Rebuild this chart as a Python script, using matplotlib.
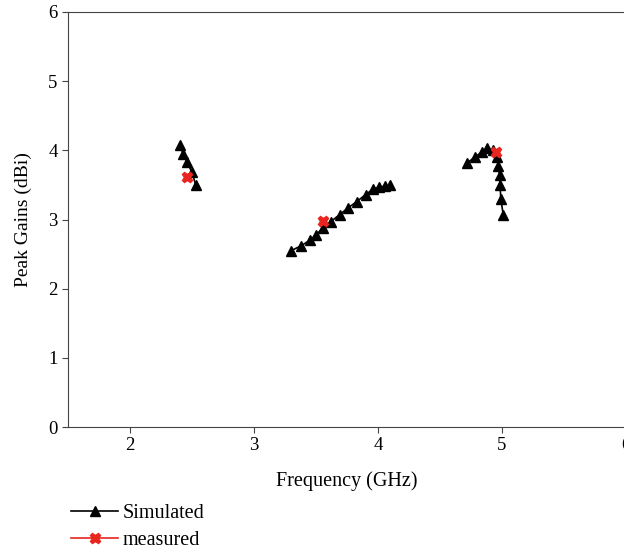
import numpy as np
import matplotlib
matplotlib.use('Agg')
import matplotlib.pyplot as plt
from matplotlib.lines import Line2D

plt.rcParams['font.family'] = ['Liberation Serif', 'DejaVu Serif']

# simulated peak gain, three bands (nan breaks the line between bands)
sim_freq = [2.40, 2.43, 2.46, 2.50, 2.53, np.nan,
            3.30, 3.38, 3.45, 3.50, 3.56, 3.62, 3.69, 3.76, 3.83, 3.90, 3.96, 4.01, 4.06, 4.10, np.nan,
            4.72, 4.78, 4.84, 4.88, 4.93, 4.96, 4.97, 4.98, 4.985, 4.99, 5.01]
sim_gain = [4.07, 3.95, 3.83, 3.68, 3.50, np.nan,
            2.55, 2.62, 2.70, 2.78, 2.88, 2.97, 3.07, 3.17, 3.26, 3.36, 3.44, 3.47, 3.48, 3.50, np.nan,
            3.82, 3.90, 3.98, 4.03, 4.00, 3.90, 3.78, 3.65, 3.50, 3.30, 3.07]

meas_freq = [2.46, 3.56, 4.95]
meas_gain = [3.61, 2.98, 3.97]

fig = plt.figure(figsize=(6.24, 5.52), dpi=100)
# right edge of the axes sits just past the picture, as in the reference
ax = fig.add_axes([68/624, 125/552, 558/624, 415/552])

ax.plot(sim_freq, sim_gain, color='black', marker='^', markersize=7, linewidth=1.2, label='Simulated')
ax.plot(meas_freq, meas_gain, color='#e8251f', marker='X', markersize=7.5, linestyle='none', label='measured')

ax.set_xlim(1.5, 6.0)
ax.set_ylim(0, 6)
ax.set_xticks([2, 3, 4, 5, 6])
ax.set_yticks([0, 1, 2, 3, 4, 5, 6])
ax.tick_params(labelsize=13.5, direction='out', length=4, color='#444444')
for s in ax.spines.values():
    s.set_color('#444444')
ax.set_xlabel('Frequency (GHz)', fontsize=14.5, labelpad=12)
ax.set_ylabel('Peak Gains (dBi)', fontsize=14, labelpad=12)

# legend with a red line for measured as in the reference
handles = [Line2D([], [], color='black', marker='^', markersize=7, linewidth=1.2),
           Line2D([], [], color='#e8251f', marker='X', markersize=7.5, linewidth=1.2)]
fig.legend(handles, ['Simulated', 'measured'], loc='upper left', bbox_to_anchor=(67/624, 1 - 500/552),
           frameon=False, fontsize=14.5, handlelength=2.35, handletextpad=0.2, labelspacing=0.4,
           borderaxespad=0, borderpad=0.2)

fig.savefig('out.png', dpi=100)
